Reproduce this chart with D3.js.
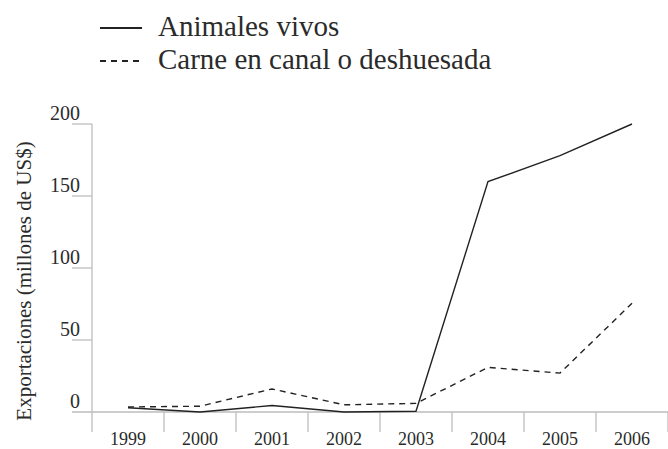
<!doctype html>
<html lang="es">
<head>
    <meta charset="UTF-8">
    <title>Exportaciones</title>
    <script src="https://cdn.jsdelivr.net/npm/d3@7"></script>
    <style>
        body { margin: 0; background: #fff; }
        text { font-family: "Liberation Serif", "DejaVu Serif", serif; fill: #2b2b2b; }
    </style>
</head>
<body>
<script>
    var w = 668;
    var h = 449;

    var years = ["1999", "2000", "2001", "2002", "2003", "2004", "2005", "2006"];
    var vivos = [3, 0, 4.5, 0, 0.5, 160, 178, 200];
    var carne = [3.5, 4, 16, 5, 6, 31, 27, 75.5];
    var yTicks = [0, 50, 100, 150, 200];
    var seriesNames = ["Animales vivos", "Carne en canal o deshuesada"];

    var axisColor = "#bdbdbd";
    var serif = "'Liberation Serif', 'DejaVu Serif', serif";

    var svg = d3.select("body").append("svg")
        .attr("width", w)
        .attr("height", h);

    var xScale = d3.scaleBand().domain(years).range([92, 668]);
    var yScale = d3.scaleLinear().domain([0, 200]).range([412, 124]);

    // y ticks: short lines left of the axis, 0 runs across
    svg.selectAll(".ytick")
        .data(yTicks)
        .enter().append("line")
        .attr("x1", 72)
        .attr("x2", function (d) { return d === 0 ? 668 : 92; })
        .attr("y1", function (d) { return yScale(d); })
        .attr("y2", function (d) { return yScale(d); })
        .attr("stroke", axisColor)
        .attr("stroke-width", 1.3);

    svg.selectAll(".ylab")
        .data(yTicks)
        .enter().append("text")
        .attr("x", 80)
        .attr("y", function (d) { return yScale(d) - 4; })
        .attr("text-anchor", "end")
        .attr("font-family", serif)
        .attr("font-size", "20px")
        .text(function (d) { return d; });

    // vertical axis
    svg.append("line")
        .attr("x1", 92).attr("x2", 92)
        .attr("y1", yScale(200)).attr("y2", 432)
        .attr("stroke", axisColor)
        .attr("stroke-width", 1.3);

    // x separators
    svg.selectAll(".xtick")
        .data(years.slice(1).concat(["end"]))
        .enter().append("line")
        .attr("x1", function (d, i) { return xScale(years[0]) + (i + 1) * xScale.bandwidth(); })
        .attr("x2", function (d, i) { return xScale(years[0]) + (i + 1) * xScale.bandwidth(); })
        .attr("y1", yScale(0))
        .attr("y2", 432)
        .attr("stroke", axisColor)
        .attr("stroke-width", 1.3);

    svg.selectAll(".xlab")
        .data(years)
        .enter().append("text")
        .attr("x", function (d) { return xScale(d) + xScale.bandwidth() / 2; })
        .attr("y", 445)
        .attr("text-anchor", "middle")
        .attr("font-family", serif)
        .attr("font-size", "18px")
        .text(function (d) { return d; });

    svg.append("text")
        .attr("transform", "translate(31,281) rotate(-90)")
        .attr("text-anchor", "middle")
        .attr("font-family", serif)
        .attr("font-size", "21px")
        .text("Exportaciones (millones de US$)");

    var line = d3.line()
        .x(function (d, i) { return xScale(years[i]) + xScale.bandwidth() / 2; })
        .y(function (d) { return yScale(d); });

    svg.append("path")
        .attr("d", line(carne))
        .attr("fill", "none")
        .attr("stroke", "#222")
        .attr("stroke-width", 1.4)
        .attr("stroke-dasharray", "6,5");

    svg.append("path")
        .attr("d", line(vivos))
        .attr("fill", "none")
        .attr("stroke", "#222")
        .attr("stroke-width", 1.4);

    // legend
    var legend = svg.selectAll(".legend")
        .data(seriesNames)
        .enter().append("g")
        .attr("transform", function (d, i) { return "translate(100," + (28 + i * 33) + ")"; });

    legend.append("line")
        .attr("x1", 0).attr("x2", 42)
        .attr("y1", 0).attr("y2", 0)
        .attr("stroke", "#222")
        .attr("stroke-width", 2.2)
        .attr("stroke-dasharray", function (d, i) { return i === 1 ? "6,5" : null; });

    legend.append("text")
        .attr("x", 58)
        .attr("y", 8)
        .attr("font-family", serif)
        .attr("font-size", "29px")
        .text(function (d) { return d; });
</script>
</body>
</html>
